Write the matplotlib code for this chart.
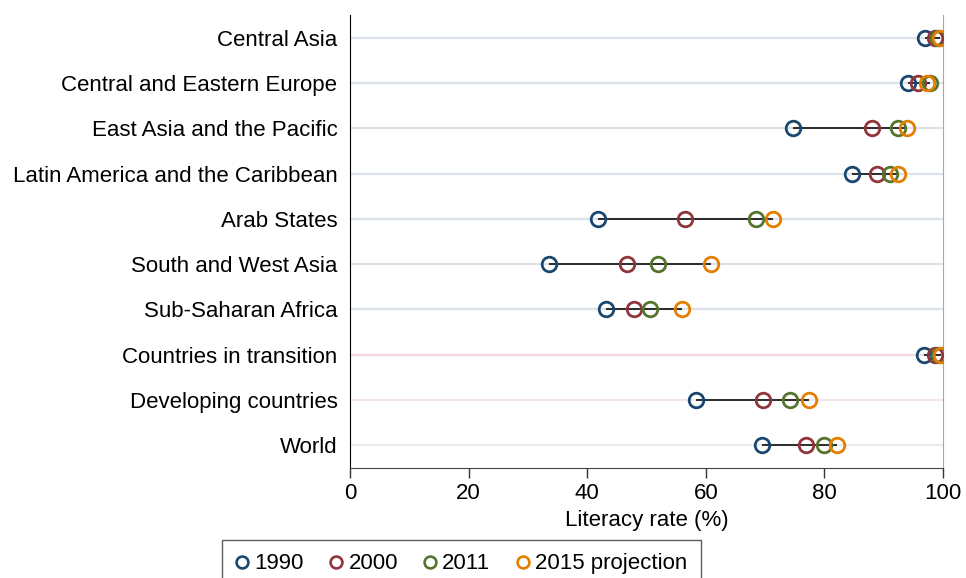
import matplotlib.pyplot as plt
import numpy as np
from matplotlib.lines import Line2D

# Data
regions = ['Central Asia', 'Central and Eastern Europe', 'East Asia and the Pacific',
           'Latin America and the Caribbean', 'Arab States', 'South and West Asia',
           'Sub-Saharan Africa', 'Countries in transition', 'Developing countries', 'World']
lit_1990 = [97.0, 94.1, 74.7, 84.7, 41.8, 33.6, 43.2, 96.8, 58.3, 69.5]
lit_2000 = [98.7, 95.8, 88.0, 88.9, 56.5, 46.7, 47.9, 98.7, 69.6, 76.9]
lit_2011 = [99.2, 97.8, 92.4, 91.1, 68.5, 51.9, 50.6, 99.4, 74.2, 79.9]
lit_2015 = [99.5, 97.3, 93.9, 92.4, 71.3, 60.9, 56.0, 99.6, 77.4, 82.1]
years = ['1990', '2000', '2011', '2015 projection']

# Styles
col_years = ['#1a476f', '#90353b', '#55752f', '#e37e00']
guide_cols = ['#dbe2ea'] * 7 + ['#f0dade', '#f4e5e8', '#ebebe5']
plt.rcParams['font.family'] = ['Liberation Sans', 'DejaVu Sans']
fs = 16

fig = plt.figure(figsize=(9.66, 5.78), dpi=100)
ax = fig.add_axes([0.3623, 0.1903, 0.6139, 0.7837])

ypos = np.arange(len(regions))
series = [lit_1990, lit_2000, lit_2011, lit_2015]

# light guide lines across the plot
for y, c in zip(ypos, guide_cols):
    ax.plot([0, 100], [y, y], color=c, lw=1.6, zorder=1, solid_capstyle='butt')

# dark range lines
lo = np.min(series, axis=0)
hi = np.max(series, axis=0)
ax.hlines(ypos, lo, hi, color='#2b2b2b', lw=1.4, zorder=2)

# markers
for vals, c in zip(series, col_years):
    ax.plot(vals, ypos, 'o', ms=10.5, mfc='none', mec=c, mew=2.0, zorder=3)

ax.set_xlim(0, 100)
ax.set_ylim(len(regions) - 0.5, -0.5)
ax.set_yticks(ypos)
ax.set_yticklabels(regions, fontsize=fs)
ax.set_xticks([0, 20, 40, 60, 80, 100])
ax.tick_params(axis='x', labelsize=fs, length=7, width=1, pad=4, color='#333333')
ax.tick_params(axis='y', length=0, pad=9)
ax.set_xlabel('Literacy rate (%)', fontsize=fs, labelpad=4)

ax.spines['top'].set_visible(False)
ax.spines['right'].set_color('#a8a8a8')
ax.spines['left'].set_color('black')
ax.spines['bottom'].set_color('#444444')

# legend
handles = [Line2D([], [], ls='none', marker='o', ms=8.5, mfc='none', mec=c, mew=1.9)
           for c in col_years]
leg = fig.legend(handles, years, loc='upper center', bbox_to_anchor=(0.4777, 0.085),
                 ncol=4, fontsize=fs, frameon=True, fancybox=False,
                 handlelength=0.6, handletextpad=0.25, columnspacing=1.15,
                 borderpad=0.6, edgecolor='#333333')
leg.get_frame().set_linewidth(1)

fig.savefig('out.png', dpi=100)
